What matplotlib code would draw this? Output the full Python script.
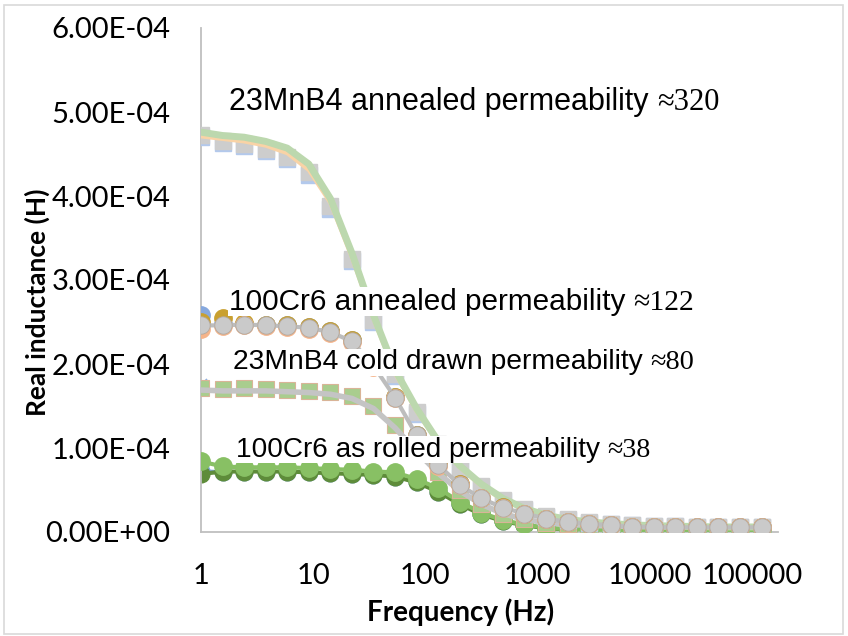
import numpy as np
import matplotlib
matplotlib.use("Agg")
import matplotlib.pyplot as plt
from matplotlib.patches import Rectangle
from matplotlib.transforms import ScaledTranslation

# measurement frequencies (Hz), 27 log-spaced points 1 Hz .. 100 kHz
freq = [1, 1.557, 2.424, 3.775, 5.878, 9.152, 14.25, 22.19, 34.55, 53.79,
        83.76, 130.4, 203.0, 316.2, 492.4, 766.6, 1194, 1859, 2894, 4507,
        7017, 10926, 17013, 26489, 41246, 64222, 100000]

# real inductance, units of 1e-4 H
mnb_ann_gray = [4.73, 4.66, 4.62, 4.56, 4.47, 4.28, 3.88, 3.25, 2.52, 1.88, 1.43, 1.05, 0.76, 0.55,
                0.38, 0.27, 0.19, 0.15, 0.12, 0.09, 0.08, 0.075, 0.07, 0.065, 0.06, 0.06, 0.06]
mnb_ann_blue = [4.70, 4.63, 4.59, 4.53, 4.44, 4.25, 3.85, 3.23, 2.50, 1.86, 1.41, 1.04, 0.75, 0.54,
                0.37, 0.26, 0.18, 0.14, 0.11, 0.09, 0.08, 0.07, 0.07, 0.065, 0.06, 0.06, 0.06]
mnb_ann_orange = [4.71, 4.68, 4.65, 4.60, 4.51, 4.31, 3.92, 3.27, 2.54, 1.89, 1.44, 1.06, 0.77, 0.55,
                  0.38, 0.27, 0.19, 0.15, 0.12, 0.09, 0.08, 0.075, 0.07, 0.065, 0.06, 0.06, 0.06]
mnb_ann_green = [4.76, 4.72, 4.70, 4.65, 4.57, 4.38, 3.97, 3.32, 2.58, 1.93, 1.47, 1.08, 0.79, 0.57,
                 0.40, 0.28, 0.20, 0.15, 0.12, 0.10, 0.085, 0.075, 0.07, 0.065, 0.06, 0.06, 0.06]

cr_ann_gray = [2.46, 2.46, 2.47, 2.46, 2.45, 2.43, 2.38, 2.27, 1.98, 1.60, 1.15, 0.80, 0.56, 0.40,
               0.29, 0.22, 0.16, 0.12, 0.10, 0.08, 0.065, 0.06, 0.055, 0.055, 0.055, 0.055, 0.055]
cr_ann_blue = [2.58, 2.48, 2.48, 2.47, 2.46, 2.44, 2.39, 2.28, 1.99, 1.61, 1.16, 0.81, 0.57, 0.41,
               0.30, 0.22, 0.16, 0.12, 0.10, 0.08, 0.065, 0.06, 0.055, 0.055, 0.055, 0.055, 0.055]
cr_ann_gold = [2.50, 2.55, 2.49, 2.47, 2.46, 2.44, 2.39, 2.28, 1.99, 1.61, 1.16, 0.81, 0.57, 0.41,
               0.30, 0.22, 0.16, 0.12, 0.10, 0.08, 0.065, 0.06, 0.055, 0.055, 0.055, 0.055, 0.055]
cr_ann_orange = [2.42, 2.45, 2.46, 2.45, 2.44, 2.42, 2.37, 2.26, 1.97, 1.59, 1.14, 0.79, 0.56, 0.40,
                 0.29, 0.21, 0.15, 0.12, 0.10, 0.08, 0.065, 0.06, 0.055, 0.055, 0.055, 0.055, 0.055]

mnb_cd_sq = [1.71, 1.70, 1.71, 1.70, 1.69, 1.68, 1.67, 1.62, 1.50, 1.27, 0.98, 0.72, 0.50, 0.33,
             0.22, 0.15, 0.11, 0.09, 0.08, 0.07, 0.065, 0.06, 0.06, 0.06, 0.06, 0.06, 0.06]
mnb_cd_gray = [1.69, 1.68, 1.68, 1.68, 1.67, 1.66, 1.64, 1.59, 1.47, 1.24, 0.96, 0.70, 0.49, 0.33,
               0.22, 0.15, 0.11, 0.09, 0.08, 0.07, 0.065, 0.06, 0.06, 0.06, 0.06, 0.06, 0.06]
mnb_cd_x = [1.75, 1.71, 1.71, 1.70, 1.69, 1.68, 1.67, 1.62, 1.50, 1.27, 0.98, 0.72, 0.50, 0.33,
            0.22, 0.15, 0.11, 0.09, 0.08, 0.07, 0.065, 0.06, 0.06, 0.06, 0.06, 0.06, 0.06]

cr_roll_green = [0.84, 0.78, 0.77, 0.77, 0.77, 0.76, 0.75, 0.74, 0.72, 0.71, 0.63, 0.52, 0.36, 0.23,
                 0.14, 0.09, 0.05, 0.035, 0.03, 0.025, 0.025, 0.025, 0.025, 0.025, 0.025, 0.025, 0.025]
cr_roll_dark = [0.69, 0.72, 0.72, 0.72, 0.72, 0.71, 0.70, 0.69, 0.68, 0.66, 0.59, 0.48, 0.33, 0.21,
                0.13, 0.08, 0.045, 0.03, 0.025, 0.02, 0.02, 0.02, 0.02, 0.02, 0.02, 0.02, 0.02]
cr_roll_blue = [0.73, 0.72, 0.72, 0.72, 0.72, 0.71, 0.70, 0.69, 0.68, 0.66, 0.59, 0.48, 0.33, 0.21,
                0.13, 0.08, 0.045, 0.03, 0.025, 0.02, 0.02, 0.02, 0.02, 0.02, 0.02, 0.02, 0.02]

labels = ["23MnB4 annealed permeability ", "100Cr6 annealed permeability ",
          "23MnB4 cold drawn permeability ", "100Cr6 as rolled permeability "]
label_mu = ["\u2248320", "\u2248122", "\u224880", "\u224838"]
label_x = [1.77, 1.77, 1.93, 2.05]
label_y = [5.12, 2.74, 2.02, 0.98]
label_size = [22, 21.4, 20.3, 20.2]

yticks = [0, 1, 2, 3, 4, 5, 6]
xticks = [1, 10, 100, 1000, 10000, 100000]

f = np.array(freq)
s = 1e-4

fig = plt.figure(figsize=(8.48, 6.36), dpi=100)
fig.patches.append(Rectangle((4 / 848, 2 / 636), 839 / 848, 629 / 636, transform=fig.transFigure,
                             fill=False, edgecolor="#D9D9D9", lw=1.2))
ax = fig.add_axes([201 / 848, 1 - 532 / 636, 577 / 848, 504 / 636])

# 100Cr6 as rolled
ax.plot(f, np.array(cr_roll_blue) * s, "o-", color="#7FA7DA", lw=2, ms=12, zorder=2)
ax.plot(f, np.array(cr_roll_dark) * s, "o-", color="#5E8C3A", lw=3, ms=12, zorder=2)
ax.plot(f, np.array(cr_roll_green) * s, "o-", color="#88C064", lw=3, ms=12.5, zorder=3)

# 23MnB4 cold drawn
ax.plot(f, np.array(mnb_cd_x) * s, "x", color="#8FB1E3", ms=9, mew=1.2, zorder=4)
ax.plot(f, np.array(mnb_cd_sq) * s, "s", color="#A9CD8E", mfc="#A9CD8E", mec="#D9B497",
        ms=11, mew=0.8, zorder=4)
ax.plot(f, np.array(mnb_cd_gray) * s, "-", color="#C4C4C4", lw=4, zorder=5)

# 23MnB4 annealed
ax.plot(f, np.array(mnb_ann_blue) * s, "s", color="#B3C9EC", ms=12, zorder=6)
ax.plot(f, np.array(mnb_ann_gray) * s, "s", color="#CDCDCD", ms=11, zorder=6)
ax.plot(f, np.array(mnb_ann_orange) * s, "-", color="#F9D3A6", lw=3, zorder=7)
ax.plot(f, np.array(mnb_ann_green) * s, "-", color="#BCD8AE", lw=5, zorder=7)

# 100Cr6 annealed
ax.plot(f, np.array(cr_ann_blue) * s, "o", color="#86A8DE", ms=12.5, zorder=8)
ax.plot(f, np.array(cr_ann_gold) * s, "o", color="#C9A030", ms=12.5, zorder=8)
ax.plot(f, np.array(cr_ann_orange) * s, "o", color="#F5B48A", ms=12.5, zorder=8)
ax.plot(f, np.array(cr_ann_gray) * s, "o-", color="#BDBDBD", mfc="#CACACA", mec="#B3A99F",
        lw=3, ms=12.5, mew=0.6, zorder=9)

for lab, mu, lx, ly, fs in zip(labels, label_mu, label_x, label_y, label_size):
    t = ax.text(lx, ly * s, lab, fontsize=fs, family="Liberation Sans", va="center",
                ha="left", zorder=20,
                bbox=dict(facecolor="white", edgecolor="none", pad=0.5))
    ax.annotate(mu, xy=(1, 0), xycoords=t, va="bottom", ha="left", fontsize=fs,
                family="Liberation Serif", zorder=21)

ax.set_xscale("log")
ax.set_xlim(1, 1.4e5)
ax.set_ylim(0, 6e-4)
ax.set_xticks(xticks)
ax.set_xticklabels([str(v) for v in xticks])
ax.minorticks_off()
ax.set_yticks([v * s for v in yticks])
ax.set_yticklabels([f"{v:.2f}E-04" if v else "0.00E+00" for v in yticks])
ax.tick_params(length=0, labelsize=21, colors="black")
ax.tick_params(axis="x", pad=22)
ax.tick_params(axis="y", pad=22)
for lab in ax.get_xticklabels() + ax.get_yticklabels():
    lab.set_family("Lato")
# last x label sits a little left of its tick, as in the source chart
last = ax.get_xticklabels()[-1]
last.set_transform(last.get_transform() + ScaledTranslation(-0.09, 0, fig.dpi_scale_trans))
ax.spines[["top", "right"]].set_visible(False)
ax.spines["left"].set_color("#BFBFBF")
ax.spines["bottom"].set_color("#BFBFBF")
ax.spines["left"].set_linewidth(1.3)
ax.spines["bottom"].set_linewidth(1.3)

ax.set_xlabel("Frequency (Hz)", fontsize=20, fontweight="bold", family="Lato", va="center")
ax.set_ylabel("Real inductance (H)", fontsize=19, fontweight="bold", family="Lato", va="center")
ax.xaxis.set_label_coords(0.449, -0.159)
ax.yaxis.set_label_coords(-0.284, 0.456)

fig.savefig("out.png", dpi=100)
